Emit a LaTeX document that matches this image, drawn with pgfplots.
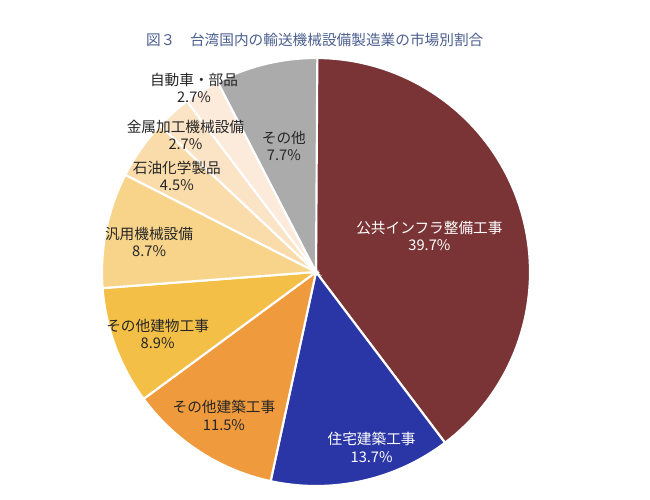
\documentclass[border=0pt]{standalone}
\usepackage{pgfplots}
\usepackage{pgfplotstable}
\pgfplotsset{compat=1.18}
\usepackage{fontspec}
\setmainfont{Noto Sans CJK JP}
\definecolor{c1}{HTML}{7A3436}
\definecolor{c2}{HTML}{2B36A6}
\definecolor{c3}{HTML}{EF9A3C}
\definecolor{c4}{HTML}{F3BF47}
\definecolor{c5}{HTML}{F8D48A}
\definecolor{c6}{HTML}{F9DCAA}
\definecolor{c7}{HTML}{FBE3C6}
\definecolor{c8}{HTML}{FCEADB}
\definecolor{c9}{HTML}{ABABAB}
\definecolor{titlec}{HTML}{4B5F8F}
\pgfplotstableread{
value color
39.7 c1
13.7 c2
11.5 c3
8.9 c4
8.7 c5
4.5 c6
2.7 c7
2.7 c8
7.7 c9
}\piedata
\begin{document}
\begin{tikzpicture}
\path[use as bounding box] (0,0) rectangle (487.5pt,375pt);
\node[text=titlec, font=\fontsize{11}{13}\selectfont] at (236pt,345pt) {図３\quad 台湾国内の輸送機械設備製造業の市場別割合};
\begin{axis}[at={(237pt,171pt)}, anchor=center, scale only axis, width=321pt, height=321pt,
  xmin=-1, xmax=1, ymin=-1, ymax=1, hide axis, clip=false]
\def\cum{0}
\pgfplotsforeachungrouped \i in {0,...,8}{
  \pgfplotstablegetelem{\i}{value}\of\piedata \let\v\pgfplotsretval
  \pgfplotstablegetelem{\i}{color}\of\piedata \let\c\pgfplotsretval
  \pgfmathsetmacro\aS{90-3.6*\cum}
  \pgfmathsetmacro\cumnew{\cum+\v}
  \pgfmathsetmacro\aE{90-3.6*\cumnew}
  \global\let\cum\cumnew
  \edef\temp{\noexpand\addplot[fill=\c, draw=white, line width=1.6pt, domain=\aE:\aS, samples=80] ({cos(x)},{sin(x)}) -- (axis cs:0,0) -- cycle;}
  \temp
}
\tikzset{lab/.style={align=center, font=\fontsize{11}{13}\selectfont, inner sep=0pt}}
\node[lab, text=white] at (axis cs:0.53,0.17) {公共インフラ整備工事\\39.7\%};
\node[lab, text=white] at (axis cs:0.26,-0.82) {住宅建築工事\\13.7\%};
\node[lab, text=black!85] at (axis cs:-0.43,-0.67) {その他建築工事\\11.5\%};
\node[lab, text=black!85] at (axis cs:-0.74,-0.29) {その他建物工事\\8.9\%};
\node[lab, text=black!85] at (axis cs:-0.78,0.14) {汎用機械設備\\8.7\%};
\node[lab, text=black!85] at (axis cs:-0.65,0.45) {石油化学製品\\4.5\%};
\node[lab, text=black!85] at (axis cs:-0.61,0.64) {金属加工機械設備\\2.7\%};
\node[lab, text=black!85] at (axis cs:-0.57,0.86) {自動車・部品\\2.7\%};
\node[lab, text=black!85] at (axis cs:-0.15,0.59) {その他\\7.7\%};
\end{axis}
\end{tikzpicture}
\end{document}
